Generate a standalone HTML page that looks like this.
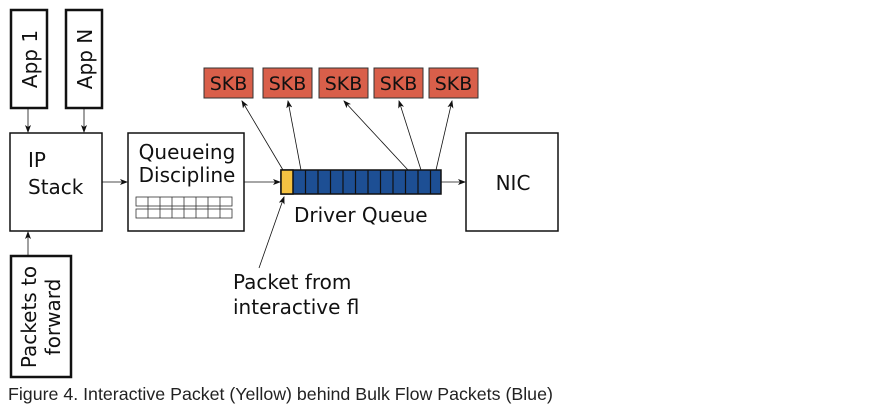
<!DOCTYPE html>
<html><head><meta charset="utf-8"><style>
body{margin:0;background:#fff;width:871px;height:408px;overflow:hidden}
</style></head><body>
<svg width="871" height="408" xmlns="http://www.w3.org/2000/svg" font-family="DejaVu Sans, sans-serif">
<defs><marker id="a" markerWidth="8" markerHeight="6" refX="7" refY="3" orient="auto" markerUnits="userSpaceOnUse"><path d="M0,0 L8,3 L0,6 L2,3z" fill="#111"/></marker></defs>
<g fill="#fff" stroke="#111" stroke-width="2.5">
<rect x="11" y="10" width="36" height="98"/>
<rect x="66" y="10" width="36" height="98"/>
<rect x="11" y="256" width="60" height="121"/>
</g>
<g fill="#fff" stroke="#111" stroke-width="1.5">
<rect x="10" y="133" width="92" height="98"/>
<rect x="128" y="133" width="116" height="98"/>
<rect x="466" y="133" width="92" height="98"/>
</g>
<g font-size="20" fill="#111">
<text transform="translate(37,59) rotate(-90)" text-anchor="middle">App 1</text>
<text transform="translate(92,59) rotate(-90)" text-anchor="middle">App N</text>
<text transform="translate(36,317) rotate(-90)" text-anchor="middle">Packets to</text>
<text transform="translate(60,317) rotate(-90)" text-anchor="middle">forward</text>
<text x="28" y="167">IP</text>
<text x="28" y="194">Stack</text>
<text x="187" y="159" text-anchor="middle">Queueing</text>
<text x="187" y="182" text-anchor="middle">Discipline</text>
<text x="513" y="190" text-anchor="middle">NIC</text>
<text x="294" y="222">Driver Queue</text>
<text x="233" y="289">Packet from</text>
<text x="233" y="314">interactive fl</text>
</g>
<g stroke="#333" stroke-width="0.8" fill="#fff">
<rect x="136" y="197" width="96" height="9"/><rect x="136" y="209" width="96" height="9"/>
<path d="M148 197v21M160 197v21M172 197v21M184 197v21M196 197v21M208 197v21M220 197v21"/>
</g>
<g fill="#d95f4a" stroke="#333" stroke-width="1">
<rect x="204" y="68" width="49" height="30"/><rect x="263" y="68" width="49" height="30"/>
<rect x="319" y="68" width="49" height="30"/><rect x="374" y="68" width="49" height="30"/>
<rect x="429" y="68" width="49" height="30"/>
</g>
<g font-size="19" fill="#111" text-anchor="middle">
<text x="228.5" y="90">SKB</text><text x="287.5" y="90">SKB</text><text x="343.5" y="90">SKB</text><text x="398.5" y="90">SKB</text><text x="453.5" y="90">SKB</text>
</g>
<rect x="281" y="170" width="160" height="24" fill="#1d4f94" stroke="#111" stroke-width="1.5"/>
<rect x="281" y="170" width="12" height="24" fill="#f5c242" stroke="#111" stroke-width="1.5"/>
<g stroke="#111" stroke-width="1.2">
<path d="M305.5 170v24M318 170v24M330.5 170v24M343 170v24M355.5 170v24M368 170v24M380.5 170v24M393 170v24M405.5 170v24M418 170v24M430.5 170v24"/>
</g>
<g stroke="#111" stroke-width="0.8" fill="none" marker-end="url(#a)">
<line x1="28" y1="108" x2="28" y2="132"/>
<line x1="84" y1="108" x2="84" y2="132"/>
<line x1="28" y1="256" x2="28" y2="232"/>
<line x1="102" y1="182" x2="127" y2="182"/>
<line x1="244" y1="182" x2="280" y2="182"/>
<line x1="441" y1="182" x2="465" y2="182"/>
<line x1="283" y1="170" x2="242" y2="101"/>
<line x1="301" y1="170" x2="288" y2="101"/>
<line x1="408" y1="170" x2="344" y2="101"/>
<line x1="421" y1="170" x2="399" y2="101"/>
<line x1="436" y1="170" x2="452" y2="101"/>
<line x1="259" y1="268" x2="284" y2="197"/>
</g>
<text x="8" y="400" font-family="Liberation Sans, sans-serif" font-size="17.8" fill="#222">Figure 4. Interactive Packet (Yellow) behind Bulk Flow Packets (Blue)</text>
</svg>
</body></html>
